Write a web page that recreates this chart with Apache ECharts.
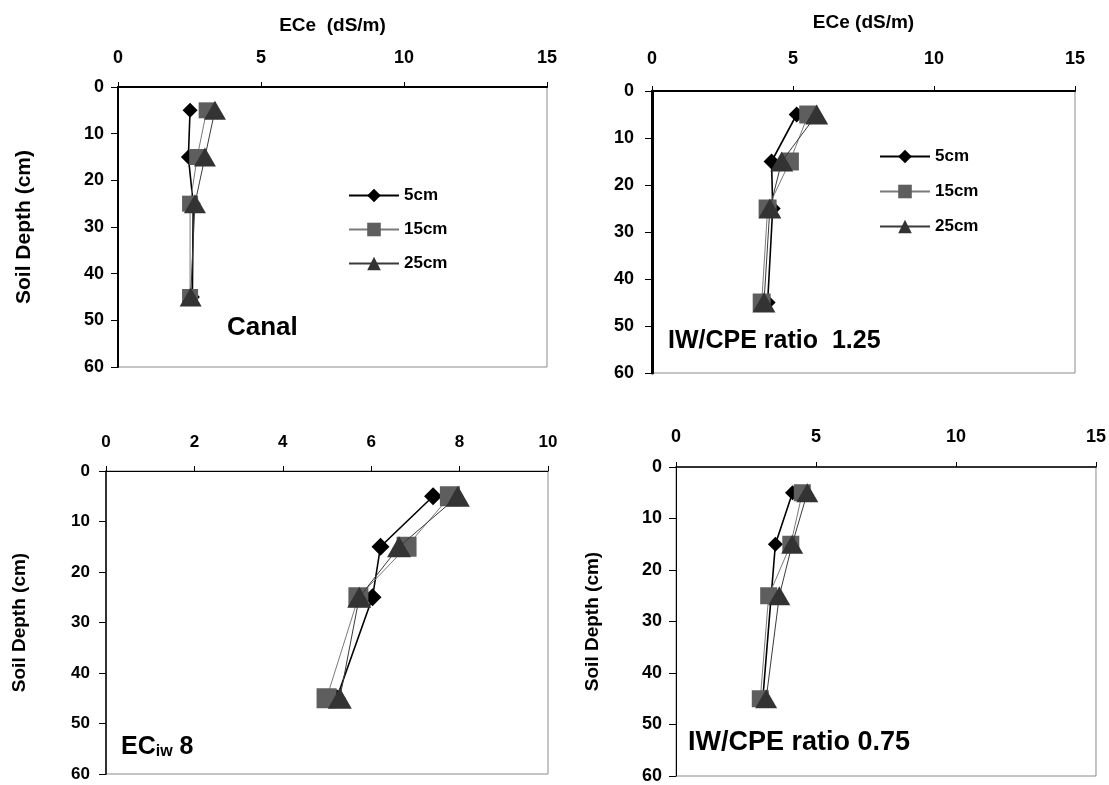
<!DOCTYPE html>
<html>
<head>
<meta charset="utf-8">
<title>ECe vs soil depth</title>
<script src="https://cdn.jsdelivr.net/npm/echarts@6/dist/echarts.min.js"></script>
<style>
  html, body { margin: 0; padding: 0; background: #fff; }
  #main { width: 1109px; height: 785px; }
</style>
</head>
<body>
<div id="main"></div>
<script>
// depth of sampling (cm) - y values for every series
var depths = [5, 15, 25, 45];
var seriesNames = ['5cm', '15cm', '25cm'];

// Canal
var canal5 = [2.52, 2.46, 2.63, 2.6];
var canal15 = [3.1, 2.77, 2.52, 2.52];
var canal25 = [3.39, 3.04, 2.69, 2.54];

// IW/CPE ratio 1.25
var iw125_5 = [5.13, 4.24, 4.28, 4.1];
var iw125_15 = [5.54, 4.89, 4.1, 3.89];
var iw125_25 = [5.84, 4.6, 4.18, 3.97];

// ECiw 8
var ec8_5 = [7.4, 6.21, 6.03, 5.22];
var ec8_15 = [7.78, 6.8, 5.71, 4.99];
var ec8_25 = [7.96, 6.63, 5.73, 5.29];

// IW/CPE ratio 0.75
var iw075_5 = [4.16, 3.55, 3.4, 3.1];
var iw075_15 = [4.51, 4.1, 3.31, 3.01];
var iw075_25 = [4.69, 4.15, 3.69, 3.22];

// axis ranges
var ecMax15 = 15, ecStep15 = 5;
var ecMax10 = 10, ecStep10 = 2;
var depthMax = 60, depthStep = 10;

var FONT = 'Liberation Sans, Arial, sans-serif';

var myChart = echarts.init(document.getElementById('main'));

function pairs(xs) {
    var out = [];
    for (var i = 0; i < xs.length; i++) {
        out.push([xs[i], depths[i]]);
    }
    return out;
}

// style of the three series
var styles = [
    {symbol: 'diamond', color: '#000', line: '#000', lw: 1.6},
    {symbol: 'rect', color: '#5e5e5e', line: '#7a7a7a', lw: 1},
    {symbol: 'triangle', color: '#333', line: '#3a3a3a', lw: 1}
];

// marker sizes per panel [diamond, square, triangle]
function makeSeries(idx, values, sizes) {
    var list = [];
    for (var k = 0; k < 3; k++) {
        list.push({
            type: 'line',
            name: seriesNames[k],
            xAxisIndex: idx,
            yAxisIndex: idx,
            data: pairs(values[k]),
            symbol: styles[k].symbol,
            symbolSize: sizes[k],
            showAllSymbol: true,
            animation: false,
            itemStyle: {color: styles[k].color, borderWidth: 0},
            lineStyle: {color: styles[k].line, width: styles[k].lw},
            z: 3 + k
        });
    }
    return list;
}

function xAxisOf(idx, max, step, gap, title, topW, margin, fs) {
    return {
        gridIndex: idx,
        type: 'value',
        position: 'top',
        min: 0, max: max, interval: step,
        name: title,
        nameLocation: 'middle',
        nameGap: gap,
        nameTextStyle: {fontFamily: FONT, fontWeight: 'bold', fontSize: 19, color: '#000'},
        splitLine: {show: false},
        axisLine: {onZero: false, lineStyle: {color: '#000', width: topW}},
        axisTick: {inside: false, length: 5, lineStyle: {color: '#000', width: 1}},
        axisLabel: {margin: margin, fontFamily: FONT, fontWeight: 'bold', fontSize: fs, color: '#000'}
    };
}

function yAxisOf(idx, title, gap, titleSize, lw, margin, fs) {
    return {
        gridIndex: idx,
        type: 'value',
        inverse: true,
        min: 0, max: depthMax, interval: depthStep,
        name: title,
        nameLocation: 'middle',
        nameRotate: 90,
        nameGap: gap,
        nameTextStyle: {fontFamily: FONT, fontWeight: 'bold', fontSize: titleSize, color: '#000'},
        splitLine: {show: false},
        axisLine: {onZero: false, lineStyle: {color: '#000', width: lw}},
        axisTick: {inside: false, length: 7, lineStyle: {color: '#000', width: 1}},
        axisLabel: {margin: margin, fontFamily: FONT, fontWeight: 'bold', fontSize: fs, color: '#000'}
    };
}

function gridOf(left, top, width, height) {
    return {
        left: left, top: top, width: width, height: height,
        show: true, borderColor: '#8a8a8a', borderWidth: 1, backgroundColor: '#fff'
    };
}

var legendText = {fontFamily: FONT, fontWeight: 'bold', fontSize: 17, color: '#000'};

var option = {
    backgroundColor: '#fff',
    animation: false,
    grid: [
        gridOf(118, 87, 429, 280),
        gridOf(652, 91, 423, 282),
        gridOf(106, 471, 442, 303),
        gridOf(676, 467, 421, 310)
    ],
    xAxis: [
        xAxisOf(0, ecMax15, ecStep15, 52, 'ECe  (dS/m)', 2, 20, 18),
        xAxisOf(1, ecMax15, ecStep15, 59, 'ECe (dS/m)', 2, 23, 18),
        xAxisOf(2, ecMax10, ecStep10, 0, '', 1, 20, 17),
        xAxisOf(3, ecMax15, ecStep15, 0, '', 1.5, 21, 18)
    ],
    yAxis: [
        yAxisOf(0, 'Soil Depth (cm)', 83, 21, 2, 14, 18),
        yAxisOf(1, '', 0, 16, 3, 18, 18),
        yAxisOf(2, 'Soil Depth (cm)', 77, 19, 1.5, 16, 17),
        yAxisOf(3, 'Soil Depth (cm)', 74, 19, 1, 14, 18)
    ],
    legend: [
        {
            left: 343, top: 182, orient: 'vertical', itemGap: 17,
            itemWidth: 50, itemHeight: 17, selectedMode: false,
            data: seriesNames, textStyle: legendText
        },
        {
            left: 874, top: 143, orient: 'vertical', itemGap: 18,
            itemWidth: 50, itemHeight: 17, selectedMode: false,
            data: seriesNames, textStyle: legendText
        }
    ],
    graphic: [
        {type: 'text', left: 227, top: 315, z: 10,
         style: {text: 'Canal', font: 'bold 26px ' + FONT, fill: '#000'}},
        {type: 'text', left: 668, top: 329, z: 10,
         style: {text: 'IW/CPE ratio  1.25', font: 'bold 25px ' + FONT, fill: '#000'}},
        {type: 'text', left: 688, top: 729, z: 10,
         style: {text: 'IW/CPE ratio 0.75', font: 'bold 27px ' + FONT, fill: '#000'}},
        {type: 'text', left: 121, top: 735, z: 10,
         style: {
             text: '{a|EC}{b|iw}{a| 8}',
             rich: {
                 a: {fontFamily: FONT, fontWeight: 'bold', fontSize: 25, fill: '#000', verticalAlign: 'bottom'},
                 b: {fontFamily: FONT, fontWeight: 'bold', fontSize: 16, fill: '#000', verticalAlign: 'bottom'}
             }
         }}
    ],
    series: [].concat(
        makeSeries(0, [canal5, canal15, canal25], [15, 16, [22, 19]]),
        makeSeries(1, [iw125_5, iw125_15, iw125_25], [16, 18, [23, 20]]),
        makeSeries(2, [ec8_5, ec8_15, ec8_25], [18, 20, [24, 21]]),
        makeSeries(3, [iw075_5, iw075_15, iw075_25], [15, 17, [22, 19]])
    )
};

myChart.setOption(option);
</script>
</body>
</html>
